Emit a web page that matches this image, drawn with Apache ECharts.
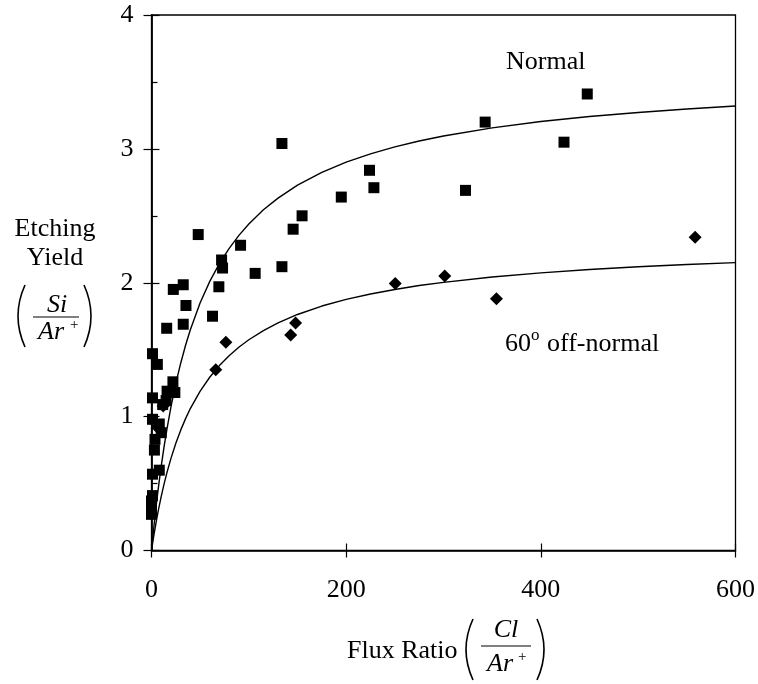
<!DOCTYPE html>
<html>
<head>
<meta charset="utf-8">
<script src="https://cdn.jsdelivr.net/npm/echarts@6/dist/echarts.min.js"></script>
<style>
html,body{margin:0;padding:0;background:#fff;}
#chart{width:758px;height:684px;}
</style>
</head>
<body>
<div id="chart"></div>
<script>
// Normal incidence data (squares): [flux ratio, etching yield]
const normalX = [1, 6, 22, 24, 16, 1, 15, 11.5, 1, 8, 10, 3.6, 3, 1, 8, 1, 0, 0, 0, 0,
  15.6, 32.6, 62.7, 35.4, 22.4, 32.6, 69.2, 72, 73, 106.5, 134, 48, 91.5, 134, 145.5, 154.7, 195, 224, 228.5, 322.6, 342.8, 423.8, 447.7];
const normalY = [1.47, 1.39, 1.26, 1.18, 1.19, 1.14, 1.12, 1.09, 0.98, 0.945, 0.88, 0.83, 0.75, 0.57, 0.60, 0.41, 0.37, 0.33, 0.30, 0.27,
  1.66, 1.69, 1.75, 1.83, 1.95, 1.985, 1.97, 2.17, 2.11, 2.07, 2.12, 2.36, 2.28, 3.04, 2.40, 2.50, 2.64, 2.84, 2.71, 2.69, 3.20, 3.05, 3.41];
// 60 deg off-normal data (diamonds)
const offX = [12, 6, 66, 76.4, 143, 148, 250.4, 301.3, 354.4, 558.5];
const offY = [1.08, 0.92, 1.35, 1.555, 1.61, 1.70, 1.995, 2.05, 1.88, 2.34];
// Fitted curves
const curveX = [0, 1, 2, 3, 5, 7, 10, 13, 16, 20, 25, 30, 35, 40, 50, 60, 70, 80, 90, 100, 115, 130, 150, 175, 200, 225, 250, 275, 300, 350, 400, 450, 500, 550, 600];
const curveNormal = [0, 0.075, 0.147, 0.216, 0.346, 0.466, 0.631, 0.779, 0.913, 1.073, 1.248, 1.399, 1.533, 1.651, 1.850, 2.012, 2.146, 2.259, 2.356, 2.439, 2.545, 2.632, 2.729, 2.824, 2.901, 2.963, 3.015, 3.059, 3.096, 3.157, 3.204, 3.242, 3.272, 3.298, 3.320];
const curveOff = [0, 0.048, 0.094, 0.138, 0.221, 0.299, 0.404, 0.499, 0.585, 0.688, 0.801, 0.899, 0.985, 1.062, 1.191, 1.296, 1.383, 1.457, 1.520, 1.574, 1.643, 1.700, 1.763, 1.826, 1.876, 1.916, 1.950, 1.979, 2.003, 2.043, 2.074, 2.099, 2.119, 2.136, 2.150];
const xTicks = [0, 200, 400, 600];
const yTicks = [0, 1, 2, 3, 4];

const zip = (a, b) => a.map((v, i) => [v, b[i]]);
const F = 'Liberation Serif, Times New Roman, serif';
const chart = echarts.init(document.getElementById('chart'), null, {renderer: 'canvas'});

function txt(x, y, s, size, opts) {
  return {
    type: 'text', x: x, y: y, silent: true,
    style: {text: s, font: (opts && opts.italic ? 'italic ' : '') + size + 'px ' + F, fill: '#000',
      align: (opts && opts.align) || 'left', verticalAlign: 'middle'}
  };
}
function paren(x, y1, y2, dx) {
  return {type: 'bezierCurve', silent: true,
    shape: {x1: x, y1: y1, x2: x, y2: y2, cpx1: x + dx, cpy1: (y1 + y2) / 2},
    style: {stroke: '#000', lineWidth: 1.6, fill: null}};
}
function hline(x1, x2, y) {
  return {type: 'line', silent: true, shape: {x1: x1, y1: y, x2: x2, y2: y}, style: {stroke: '#000', lineWidth: 1}};
}

const option = {
  animation: false,
  backgroundColor: '#fff',
  grid: {left: 151.5, right: 21.5, top: 15, bottom: 133.5, show: true, borderColor: '#000', borderWidth: 1.3},
  xAxis: [{
    type: 'value', min: 0, max: 600, interval: 200, position: 'bottom',
    axisLine: {show: true, lineStyle: {color: '#000', width: 1.5}},
    axisTick: {show: true, inside: false, length: 7, lineStyle: {color: '#000', width: 1.2}},
    axisLabel: {margin: 27, fontSize: 26, fontFamily: F, color: '#000',
      formatter: v => xTicks.indexOf(v) >= 0 ? String(v) : ''},
    splitLine: {show: false}
  }, {
    type: 'value', min: 0, max: 600, interval: 200, position: 'bottom',
    axisLine: {show: false}, axisLabel: {show: false}, splitLine: {show: false},
    axisTick: {show: true, inside: true, length: 7, lineStyle: {color: '#000', width: 1.2}}
  }],
  yAxis: [{
    type: 'value', min: 0, max: 4, interval: 1, position: 'left',
    axisLine: {show: true, lineStyle: {color: '#000', width: 1.8}},
    axisTick: {show: true, inside: false, length: 8, lineStyle: {color: '#000', width: 1.2}},
    axisLabel: {margin: 18, fontSize: 26, fontFamily: F, color: '#000',
      formatter: v => yTicks.indexOf(v) >= 0 ? String(v) : ''},
    splitLine: {show: false}
  }, {
    type: 'value', min: 0, max: 4, interval: 1, position: 'left',
    axisLine: {show: false}, axisLabel: {show: false}, splitLine: {show: false},
    axisTick: {show: true, inside: true, length: 8, lineStyle: {color: '#000', width: 1.2}},
    minorTick: {show: true, splitNumber: 2, length: 6, lineStyle: {color: '#000', width: 1.2}}
  }],
  series: [
    {type: 'line', data: zip(curveX, curveNormal), showSymbol: false, smooth: false,
      lineStyle: {color: '#000', width: 1.4}, silent: true, z: 2},
    {type: 'line', data: zip(curveX, curveOff), showSymbol: false, smooth: false,
      lineStyle: {color: '#000', width: 1.4}, silent: true, z: 2},
    {type: 'scatter', data: zip(normalX, normalY), symbol: 'rect', symbolSize: 11,
      itemStyle: {color: '#000', opacity: 1}, z: 3},
    {type: 'scatter', data: zip(offX, offY), symbol: 'diamond', symbolSize: 13,
      itemStyle: {color: '#000', opacity: 1}, z: 3}
  ],
  graphic: [
    txt(506, 62, 'Normal', 26),
    txt(505, 344, '60', 26),
    txt(531, 336, 'o', 17),
    txt(547, 344, 'off-normal', 26),
    // y axis title
    txt(55, 229, 'Etching', 26, {align: 'center'}),
    txt(55, 258, 'Yield', 26, {align: 'center'}),
    txt(57, 305, 'Si', 26, {align: 'center', italic: true}),
    hline(33, 79, 317),
    txt(51, 332, 'Ar', 26, {align: 'center', italic: true}),
    txt(70, 325, '+', 15),
    paren(25, 285, 347, -14),
    paren(84, 285, 347, 14),
    // x axis title
    txt(347, 651, 'Flux Ratio', 26),
    txt(506, 630, 'Cl', 26, {align: 'center', italic: true}),
    hline(481, 531, 646),
    txt(500, 664, 'Ar', 26, {align: 'center', italic: true}),
    txt(518, 657, '+', 15),
    paren(473, 619, 680, -14),
    paren(537, 619, 680, 14)
  ]
};
chart.setOption(option);
</script>
</body>
</html>
